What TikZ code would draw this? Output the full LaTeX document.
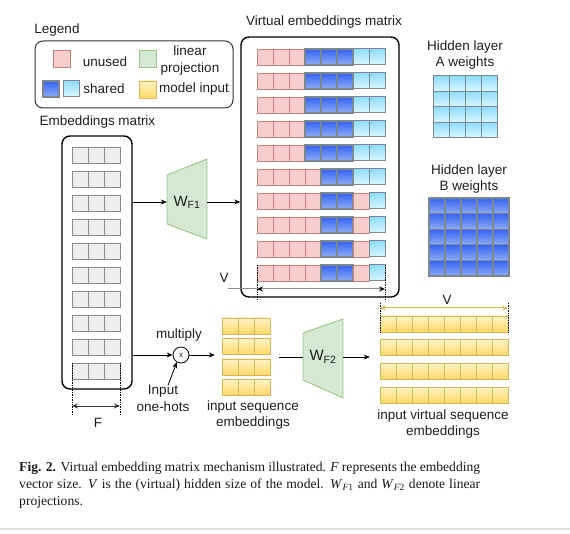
\documentclass[tikz,border=0pt]{standalone}
\usepackage{fontspec}
\setmainfont{Liberation Sans}
\newfontfamily\capfont{Liberation Serif}
\usetikzlibrary{arrows.meta,positioning}

\definecolor{pinkF}{HTML}{F8CECC}
\definecolor{pinkD}{HTML}{C98080}
\definecolor{greenF}{HTML}{D5E8D4}
\definecolor{greenD}{HTML}{9CC58A}
\definecolor{yelT}{HTML}{FFF3C8}
\definecolor{yelB}{HTML}{FFD966}
\definecolor{yelD}{HTML}{D6B656}
\definecolor{blueT}{HTML}{3463F2}
\definecolor{blueB}{HTML}{8EABF7}
\definecolor{cyanT}{HTML}{8EDDFA}
\definecolor{cyanB}{HTML}{DDF7FF}
\definecolor{gridD}{HTML}{7C8792}
\definecolor{greyF}{HTML}{EEEEEE}
\definecolor{greyD}{HTML}{8A8A8A}
\definecolor{txt}{HTML}{1E1E1E}

\begin{document}
\begin{tikzpicture}[
  x=1pt, y=-1pt,
  font=\fontsize{13.5}{16.5}\selectfont, text=txt,
  lab/.style={align=center, inner sep=0pt},
  frame/.style={draw=black, line width=1.4pt, rounded corners=8pt},
  legbox/.style={draw=black!80, line width=1pt, rounded corners=8pt},
  pk/.style={draw=pinkD, fill=pinkF, line width=0.9pt},
  bl/.style={top color=blueT, bottom color=blueB, draw=gridD, line width=1.1pt},
  cy/.style={top color=cyanT, bottom color=cyanB, draw=gridD, line width=1pt},
  yl/.style={top color=yelT, bottom color=yelB, draw=yelD, line width=0.9pt},
  gy/.style={draw=greyD, fill=greyF, line width=0.9pt},
  proj/.style={draw=greenD, fill=greenF, line width=0.9pt},
  wlab/.style={inner sep=0pt, minimum width=40pt, font=\fontsize{15}{18}\selectfont},
  arr/.style={-{Stealth[length=6pt,width=5pt]}, line width=0.8pt},
  dim/.style={{Stealth[length=6pt,width=5pt]}-{Stealth[length=6pt,width=5pt]}, line width=1pt},
  ext/.style={densely dotted, line width=0.7pt}
]
\useasboundingbox (0,0) rectangle (570,534);

% legend
\node[lab] (legtitle) at (57,30) {Legend};
\node[legbox, minimum width=198pt, minimum height=67pt] (legend) at (134,74.5) {};
\path[pk] (53,50) rectangle ++(17,17);
\path[proj] (139,50) rectangle ++(17,17);
\path[bl] (43,81) rectangle ++(16,16);
\path[cy] (63,81) rectangle ++(16,16);
\path[yl] (139,81) rectangle ++(17,17);
\node[lab] (unusedlab) at (105,62) {unused};
\node[lab] (projlab) at (190,60.5) {linear\\projection};
\node[lab] (sharedlab) at (104,89) {shared};
\node[lab] (inputlab) at (194,89) {model input};

% embeddings matrix
\node[lab] (embtitle) at (97.5,122) {Embeddings matrix};
\node[frame, minimum width=70pt, minimum height=253pt] (emb) at (97,262.5) {};
\foreach \r in {0,...,9}
  \foreach \k in {0,1,2}
    \path[gy] (72+16*\k,147+24*\r) rectangle ++(16,16);
\draw[ext] (72,363) -- (72,415);
\draw[ext] (120,363) -- (120,415);
\coordinate (fL) at (72,406);
\coordinate (fR) at (120,406);
\draw[dim, black!80] (fL) -- (fR);
\node[lab] (flab) at (98,423) {F};

% virtual embeddings matrix
\node[lab] (virttitle) at (324,22) {Virtual embeddings matrix};
\node[frame, minimum width=158pt, minimum height=260pt] (virt) at (320,167) {};
\foreach \pat [count=\r from 0] in {
  {pk,pk,pk,bl,bl,bl,cy,cy},{pk,pk,pk,bl,bl,bl,cy,cy},{pk,pk,pk,bl,bl,bl,cy,cy},
  {pk,pk,pk,bl,bl,bl,cy,cy},{pk,pk,pk,bl,bl,bl,cy,cy},{pk,pk,pk,pk,bl,bl,cy,cy},
  {pk,pk,pk,pk,bl,bl,pk,cy},{pk,pk,pk,pk,bl,bl,pk,cy},{pk,pk,pk,pk,bl,bl,pk,cy},
  {pk,pk,pk,pk,bl,bl,pk,cy}}
  \foreach \s [count=\k from 0] in \pat
    \path[\s] (257+16*\k,49+24*\r) rectangle ++(16,16);
\draw[ext] (257,265) -- (257,300);
\draw[ext] (385,265) -- (385,300);
\coordinate (vS) at (228,289);
\coordinate (vL) at (257,289);
\coordinate (vR) at (385,289);
\draw[line width=1pt, black!45] (vS) -- (vL);
\draw[dim, black!45, arrows={{Stealth[length=6pt,width=5pt,black]}-{Stealth[length=6pt,width=5pt,black]}}] (vL) -- (vR);
\node[lab] (vlab) at (224,278) {V};

% projection W_F1
\path[proj] (167,175) -- (207,159) -- (207,239) -- (167,224) -- cycle;
\node[wlab] (wf1) at (187,202) {W\textsubscript{F1}};
\draw[arr] (emb.east |- wf1.west) -- (wf1.west);
\draw[arr] (wf1.east) -- (wf1.east -| virt.west);

% hidden layer weights
\node[lab] (hidAlab) at (465,55) {Hidden layer\\A weights};
\foreach \r in {0,...,3}
  \foreach \k in {0,...,3}
    \path[cy] (433+16*\k,76+15.5*\r) rectangle ++(16,15.5);
\node[lab] (hidBlab) at (469,179) {Hidden layer\\B weights};
\foreach \r in {0,...,4}
  \foreach \k in {0,...,4}
    \path[bl] (429+16*\k,198+15.6*\r) rectangle ++(16,15.6);

% multiply with one-hots
\node[draw, circle, line width=0.8pt, minimum size=16pt, inner sep=0pt, font=\fontsize{8}{8}\selectfont] (mul) at (181,355) {x};
\node[lab] (multlab) at (179,335) {multiply};
\node[lab] (onehot) at (163,398.5) {Input\\one-hots};
\draw[arr] (emb.east |- mul) -- (mul.west);
\draw[arr] ([xshift=5pt]onehot.north) -- (mul.240);

% input sequence embeddings
\node[inner sep=0pt, minimum width=48pt, minimum height=77.5pt] (seq) at (246,356.75) {};
\foreach \r in {0,...,3}
  \foreach \k in {0,1,2}
    \path[yl] (222+16*\k,318+20.5*\r) rectangle ++(16,16);
\node[lab] (seqlab) at (253,415) {input sequence\\embeddings};
\draw[arr] (mul.east) -- ([xshift=-7pt]seq.west |- mul);

% projection W_F2
\path[proj] (303,333) -- (343,319) -- (343,398) -- (303,380) -- cycle;
\node[wlab] (wf2) at (323,357) {W\textsubscript{F2}};
\draw[line width=0.8pt] ([xshift=9pt]seq.east |- wf2) -- (wf2.west);

% input virtual sequence embeddings
\node[inner sep=0pt, minimum width=128pt, minimum height=87pt] (vseq) at (444,359.5) {};
\foreach \r in {0,...,3}
  \foreach \k in {0,...,7}
    \path[yl] (380+16*\k,316+23.67*\r) rectangle ++(16,16);
\draw[ext] (380,303) -- (380,332);
\draw[ext] (508,303) -- (508,332);
\coordinate (yL) at (380,308);
\coordinate (yR) at (508,308);
\draw[dim, yelD] (yL) -- (yR);
\node[lab] (yvlab) at (447,300) {V};
\node[lab] (vseqlab) at (443,424) {input virtual sequence\\embeddings};
\draw[arr] (wf2.east) -- ([xshift=-10pt]vseq.west |- wf2);

% caption
\node[anchor=north west, inner sep=0pt, text width=461pt, align=justify,
      font=\capfont\fontsize{13.6}{17}\selectfont, text=black!90] (caption) at (19,462)
  {\textbf{Fig. 2.} Virtual embedding matrix mechanism illustrated. \textit{F} represents the embedding\linebreak
   vector size. \textit{V} is the (virtual) hidden size of the model. \textit{W}\textsubscript{\textit{F}1} and \textit{W}\textsubscript{\textit{F}2} denote linear\linebreak
   projections.};
\draw[black!12, line width=1.5pt] (0,529) -- (570,529);
\end{tikzpicture}
\end{document}
